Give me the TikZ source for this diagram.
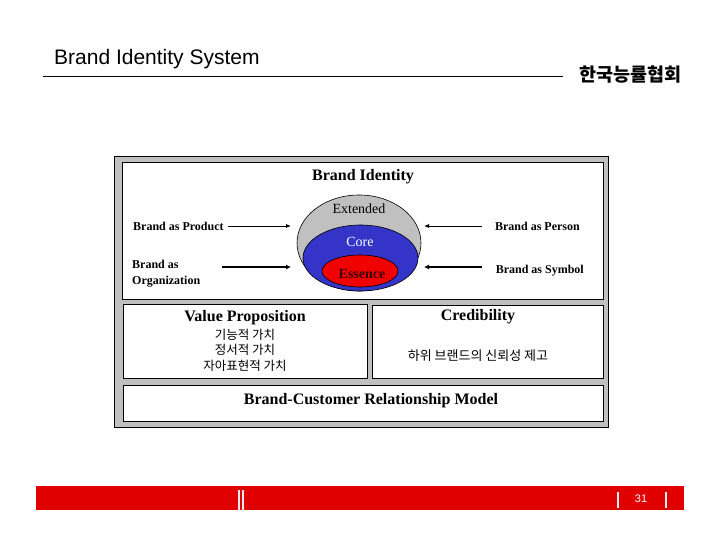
\documentclass[tikz,border=0pt]{standalone}
\usepackage{fontspec}
\setmainfont{Liberation Serif}
\newfontfamily\hfont{Liberation Sans}
\newfontfamily\kr{Noto Sans CJK KR}
\usetikzlibrary{shapes.geometric,arrows.meta}
\definecolor{silver}{RGB}{192,192,192}
\definecolor{coreblue}{RGB}{52,52,200}
\definecolor{essred}{RGB}{240,0,0}
\definecolor{barred}{RGB}{224,0,0}
\definecolor{essdark}{RGB}{60,0,0}
\tikzset{
  box/.style={draw=black, line width=0.9pt, fill=white},
  lbl/.style={inner sep=2pt, text height=0.7em, text depth=0.2em},
  side/.style={lbl, font=\fontsize{12}{16}\selectfont\bfseries},
  head/.style={lbl, font=\fontsize{16}{18}\selectfont\bfseries},
  krtext/.style={inner sep=0pt, align=center, font=\kr\fontsize{12.5}{15.5}\selectfont},
  thinarrow/.style={line width=0.8pt, -{Latex[length=5pt,width=4pt]}},
  thickarrow/.style={line width=1.6pt, -{Latex[length=5pt,width=5pt]}},
  bar/.style={draw=white!85!gray, line width=1.2pt}
}
\begin{document}
\begin{tikzpicture}[x=1pt,y=-1pt]
\useasboundingbox (0,0) rectangle (720,540);
% header
\node[anchor=west, inner sep=0pt, font=\hfont\fontsize{21}{24}\selectfont] (title) at (54,59) {Brand Identity System};
\coordinate (hl1) at (43,76);
\coordinate (hl2) at (563,76);
\draw[line width=0.8pt] (hl1) -- (hl2);
\node[anchor=west, inner sep=0pt, font=\kr\bfseries\fontsize{18.5}{20}\selectfont] (org) at (579,75) {한국능률협회};
% frame
\node[draw=black, fill=silver, line width=0.8pt, minimum width=494pt, minimum height=271pt, inner sep=0pt] (frame) at (361,291.5) {};
\node[box, minimum width=481pt, minimum height=137pt, inner sep=0pt] (topbox) at (362.5,230.5) {};
\node[box, minimum width=244pt, minimum height=74pt, inner sep=0pt] (vbox) at (245,341) {};
\node[box, minimum width=231pt, minimum height=73pt, inner sep=0pt] (cbox) at (487.5,341.5) {};
\node[box, minimum width=480pt, minimum height=36pt, inner sep=0pt] (rbox) at (363,403) {};
% ellipses
\node[ellipse, draw=black, line width=0.6pt, fill=silver, minimum width=124pt, minimum height=96pt, inner sep=0pt] (ext) at (359,243) {};
\node[ellipse, draw=black, line width=0.6pt, fill=coreblue, minimum width=115pt, minimum height=66pt, inner sep=0pt] (core) at (360.5,258) {};
\node[ellipse, draw=black, line width=0.6pt, fill=essred, minimum width=76pt, minimum height=32pt, inner sep=0pt] (ess) at (360,271) {};
\node[lbl, font=\fontsize{14}{16}\selectfont] (extl) at (359,211) {Extended};
\node[lbl, font=\fontsize{14}{16}\selectfont, text=white] (corel) at (360,244) {Core};
\node[lbl, font=\fontsize{14}{16}\selectfont\bfseries, text=essdark] (essl) at (362,275.5) {Essence};
% top labels
\node[head] (bi) at (363,178) {Brand Identity};
\node[side, anchor=west] (prod) at (131,228) {Brand as Product};
\node[side, anchor=east] (pers) at (582,228) {Brand as Person};
\node[side, anchor=west, align=left, text height=, text depth=] (orgn) at (130,274) {Brand as\\Organization};
\node[side, anchor=east] (symb) at (586,271) {Brand as Symbol};
% arrows
\coordinate (pa1) at (228,226); \coordinate (pa2) at (291,226);
\coordinate (pe1) at (482,226); \coordinate (pe2) at (424,226);
\coordinate (oa1) at (222,267); \coordinate (oa2) at (291,267);
\coordinate (sa1) at (482,267); \coordinate (sa2) at (424,267);
\draw[thinarrow] (pa1) -- (pa2);
\draw[thinarrow] (pe1) -- (pe2);
\draw[thickarrow] (oa1) -- (oa2);
\draw[thickarrow] (sa1) -- (sa2);
% lower boxes
\node[head] (vp) at (245,319) {Value Proposition};
\node[krtext] (vpl) at (245,350) {기능적 가치\\정서적 가치\\자아표현적 가치};
\node[head] (cr) at (478,318) {Credibility};
\node[krtext, font=\kr\fontsize{13}{15}\selectfont] (crl) at (478,355.5) {하위 브랜드의 신뢰성 제고};
\node[head] (bcrm) at (371,402) {Brand-Customer Relationship Model};
% footer
\node[fill=barred, minimum width=648pt, minimum height=24pt, inner sep=0pt] (footer) at (360,498) {};
\coordinate (d1a) at (239,490); \coordinate (d1b) at (239,510);
\coordinate (d2a) at (243,490); \coordinate (d2b) at (243,510);
\coordinate (s1a) at (618,492); \coordinate (s1b) at (618,508);
\coordinate (s2a) at (666,492); \coordinate (s2b) at (666,508);
\draw[bar] (d1a) -- (d1b);
\draw[bar] (d2a) -- (d2b);
\draw[bar] (s1a) -- (s1b);
\draw[bar] (s2a) -- (s2b);
\node[inner sep=0pt, text=white, font=\hfont\fontsize{11}{13}\selectfont] (pg) at (641,499) {31};
\end{tikzpicture}
\end{document}
